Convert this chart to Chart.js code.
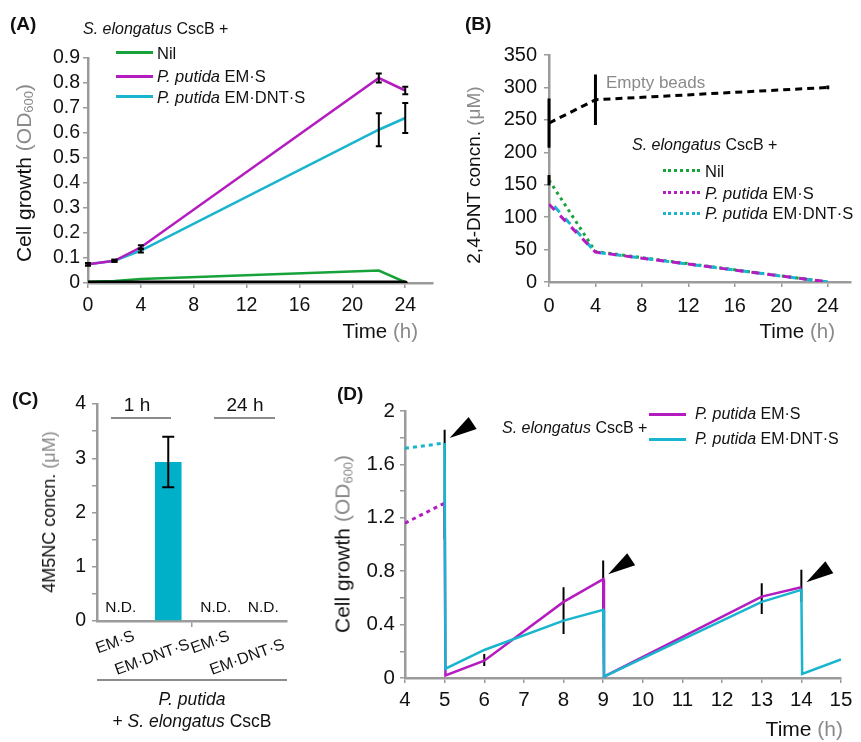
<!DOCTYPE html>
<html>
<head>
<meta charset="utf-8">
<script src="https://cdn.jsdelivr.net/npm/chart.js@4.4.0/dist/chart.umd.min.js"></script>
<style>
  body { margin: 0; background: #fff; }
  #fig { position: relative; width: 861px; height: 742px; overflow: hidden;
         font-family: "Liberation Sans", Arial, sans-serif; color: #111; }
  canvas { position: absolute; }
  .txt { position: absolute; white-space: nowrap; line-height: 1; }
  .lab { font-weight: bold; }
  .gray { color: #8a8a8a; }
  sub { font-size: 0.62em; vertical-align: -0.2em; line-height: 0; }
  .key { position: absolute; height: 0; width: 37px; }
  .rule { position: absolute; height: 0; border-top: 2px solid #8c8c8c; }
</style>
</head>
<body>
<div id="fig">
  <canvas id="chartA" width="440" height="330" style="left:0;top:0"></canvas>
  <canvas id="chartB" width="431" height="330" style="left:430px;top:0"></canvas>
  <canvas id="chartC" width="330" height="412" style="left:0;top:330px"></canvas>
  <canvas id="chartD" width="531" height="412" style="left:330px;top:330px"></canvas>

  <!-- (A) -->
  <div class="txt lab" data-pos="10,23,19">(A)</div>
  <div class="txt" data-pos="83,29,16"><i>S. elongatus</i> CscB +</div>
  <div class="key" style="left:116px;top:51px;border-top:3px solid #17a33a"></div>
  <div class="key" style="left:116px;top:74.5px;border-top:3px solid #b41cc0"></div>
  <div class="key" style="left:116px;top:95px;border-top:3px solid #19b5cf"></div>
  <div class="txt" data-pos="157,53,16.5">Nil</div>
  <div class="txt" data-pos="157,76,16.5"><i>P. putida</i> EM·S</div>
  <div class="txt" data-pos="157,97,16.5"><i>P. putida</i> EM·DNT·S</div>
  <div class="txt" data-rot="23,173,21,-90">Cell growth <span class="gray">(OD<sub>600</sub>)</span></div>
  <div class="txt" data-pos="418,331,20.5,right">Time <span class="gray">(h)</span></div>

  <!-- (B) -->
  <div class="txt lab" data-pos="465,23,19">(B)</div>
  <div class="txt" data-rot="473,175,19,-90">2,4-DNT concn. <span class="gray">(μM)</span></div>
  <div class="txt gray" data-pos="606,82,17">Empty beads</div>
  <div class="txt" data-pos="632,145,16"><i>S. elongatus</i> CscB +</div>
  <div class="key" style="left:663px;top:169px;border-top:3px dotted #17a33a"></div>
  <div class="key" style="left:663px;top:191px;border-top:3px dotted #b41cc0"></div>
  <div class="key" style="left:663px;top:212px;border-top:3px dotted #19b5cf"></div>
  <div class="txt" data-pos="705,171,16.5">Nil</div>
  <div class="txt" data-pos="705,193,16.5"><i>P. putida</i> EM·S</div>
  <div class="txt" data-pos="705,213,16.5"><i>P. putida</i> EM·DNT·S</div>
  <div class="txt" data-pos="835,331,20.5,right">Time <span class="gray">(h)</span></div>

  <!-- (C) -->
  <div class="txt lab" data-pos="12,398,19">(C)</div>
  <div class="txt" data-pos="137,404,19,center">1 h</div>
  <div class="txt" data-pos="245,404,19,center">24 h</div>
  <div class="rule" style="left:111px;top:417px;width:60px"></div>
  <div class="rule" style="left:214px;top:417px;width:61px"></div>
  <div class="rule" style="left:97px;top:679px;width:190px"></div>
  <div class="txt" data-rot="49,512,18,-90">4M5NC concn. <span class="gray">(μM)</span></div>
  <div class="txt" data-pos="192,700,17.5,center"><i>P. putida</i></div>
  <div class="txt" data-pos="192,722,17.5,center">+ <i>S. elongatus</i> CscB</div>

  <!-- (D) -->
  <div class="txt lab" data-pos="337,393,19">(D)</div>
  <div class="txt" data-pos="502,428,16"><i>S. elongatus</i> CscB +</div>
  <div class="key" style="left:649px;top:412.5px;border-top:3px solid #b41cc0"></div>
  <div class="key" style="left:649px;top:437.5px;border-top:3px solid #19b5cf"></div>
  <div class="txt" data-pos="695,414,16"><i>P. putida</i> EM·S</div>
  <div class="txt" data-pos="695,439,16"><i>P. putida</i> EM·DNT·S</div>
  <div class="txt" data-rot="342,544,21,-90">Cell growth <span class="gray">(OD<sub>600</sub>)</span></div>
  <div class="txt" data-pos="843,728,21,right">Time <span class="gray">(h)</span></div>
</div>

<script>
// --- Panel A: cell growth over 24 h ---
const timeA = [0, 2, 4, 22, 24];
const nilA = [0.005, 0.008, 0.016, 0.05, 0.003];
const emsA = [0.075, 0.089, 0.143, 0.82, 0.77];
const emdntsA = [0.075, 0.089, 0.13, 0.613, 0.66];
const blankA = [0, 0, 0, 0, 0];
const emsErrA = [0.005, 0.004, 0.008, 0.018, 0.015];
const emdntsErrA = [0.005, 0.004, 0.008, 0.066, 0.06];

// --- Panel B: 2,4-DNT concentration ---
const timeB = [0, 4, 24];
const beadsB = [245, 281, 300];
const beadsErrB = [38, 39, 3];
const nilB = [157, 47, 0];
const nilErrB = [8, 0, 0];
const emsB = [120, 46, 0];
const emdntsB = [126, 46, 0];

// --- Panel C: 4M5NC concentration ---
const catsC = ['EM·S', 'EM·DNT·S', 'EM·S', 'EM·DNT·S'];
const concC = [null, 2.93, null, null];
const errC = [null, 0.465, null, null];
const ndLabel = 'N.D.';

// --- Panel D: repeated culture cycles ---
const tPreD = [4, 5];
const emsPreD = [1.16, 1.31];
const dntPreD = [1.72, 1.76];
const tEmsD = [5, 5.02, 6, 8, 9, 9.02, 13, 14];
const emsD = [1.31, 0.02, 0.13, 0.57, 0.74, 0.01, 0.61, 0.68];
const tDntD = [5, 5.02, 6, 8, 9, 9.02, 13, 14, 14.02, 15];
const dntD = [1.76, 0.07, 0.21, 0.43, 0.51, 0.01, 0.57, 0.66, 0.03, 0.14];
const errXD = [5, 6, 8, 9, 13, 14];
const errLoD = [1.04, 0.09, 0.33, 0.38, 0.48, 0.57];
const errHiD = [1.86, 0.18, 0.68, 0.88, 0.71, 0.81];
const arrowXD = [5, 9, 14];
const arrowYD = [1.76, 0.74, 0.68];

const FONT = "'Liberation Sans', Arial, sans-serif";
const AXIS_GRAY = '#9b9b9b';
const MAGENTA = '#b41cc0';
const CYAN = '#19b5cf';
const GREEN = '#17a33a';
const BAR_CYAN = '#00b0c9';

const fig = document.getElementById('fig');

// place the static text labels
document.querySelectorAll('[data-pos]').forEach(el => {
    const [x, y, size, align] = el.dataset.pos.split(',');
    el.style.fontSize = size + 'px';
    el.style.top = (y - size * 0.49) + 'px';
    if (align === 'right') {
        el.style.right = (861 - x) + 'px';
    } else if (align === 'center') {
        el.style.left = x + 'px';
        el.style.transform = 'translateX(-50%)';
    } else {
        el.style.left = x + 'px';
    }
});
document.querySelectorAll('[data-rot]').forEach(el => {
    const [x, y, size, deg] = el.dataset.rot.split(',');
    el.style.fontSize = size + 'px';
    el.style.left = x + 'px';
    el.style.top = y + 'px';
    el.style.transform = 'translate(-50%, -50%) rotate(' + deg + 'deg)';
});

function pts(xs, ys) {
    return xs.map((x, i) => ({ x: x, y: ys[i] }));
}

function onStep(v, step) {
    const k = v / step;
    return Math.abs(k - Math.round(k)) < 1e-6;
}

function linAxis(min, max, step, size, pad, fit) {
    return {
        type: 'linear',
        min: min,
        max: max,
        border: { color: AXIS_GRAY, width: 2.5 },
        grid: { drawOnChartArea: false, tickLength: 5, color: AXIS_GRAY, lineWidth: 1.5 },
        ticks: {
            stepSize: step,
            includeBounds: false,
            color: '#111',
            font: { family: FONT, size: size },
            padding: pad,
            autoSkip: false,
            maxRotation: 0
        },
        afterFit: fit
    };
}

function baseOptions(padding, scales) {
    return {
        responsive: false,
        animation: false,
        layout: { padding: Object.assign({ left: 0, top: 0, right: 0, bottom: 0 }, padding) },
        plugins: { legend: { display: false }, tooltip: { enabled: false } },
        elements: { point: { radius: 0 }, line: { tension: 0 } },
        scales: scales
    };
}

// error bars are drawn from value arrays through the chart's own scales
function errorBars(sets, under) {
    const draw = chart => {
        const { ctx, scales } = chart;
        sets.forEach(set => {
            ctx.save();
            ctx.strokeStyle = '#000';
            ctx.lineWidth = set.width;
            ctx.beginPath();
            set.xs.forEach((xv, i) => {
                if (set.lo[i] == null || set.lo[i] === set.hi[i]) return;
                const px = scales.x.getPixelForValue(xv);
                const y1 = scales.y.getPixelForValue(set.lo[i]);
                const y2 = scales.y.getPixelForValue(set.hi[i]);
                ctx.moveTo(px, y1);
                ctx.lineTo(px, y2);
                if (set.cap) {
                    ctx.moveTo(px - set.cap, y1); ctx.lineTo(px + set.cap, y1);
                    ctx.moveTo(px - set.cap, y2); ctx.lineTo(px + set.cap, y2);
                }
            });
            ctx.stroke();
            ctx.restore();
        });
    };
    return under
        ? { id: 'errorBarsUnder', beforeDatasetsDraw: draw }
        : { id: 'errorBars', afterDatasetsDraw: draw };
}

function spread(mean, err, sign) {
    return mean.map((m, i) => (m == null || err[i] == null) ? null : m + sign * err[i]);
}

// --- Chart A ---
new Chart(document.getElementById('chartA'), {
    type: 'line',
    data: {
        datasets: [
            { data: pts(timeA, emsA), borderColor: MAGENTA, borderWidth: 2.5 },
            { data: pts(timeA, emdntsA), borderColor: CYAN, borderWidth: 2.5 },
            { data: pts(timeA, blankA), borderColor: '#000', borderWidth: 5, borderCapStyle: 'round' },
            { data: pts(timeA, nilA), borderColor: GREEN, borderWidth: 2.5 }
        ]
    },
    options: baseOptions({ top: 58, right: 7 }, {
        x: linAxis(0, 26.1, 4, 19.5, 6, s => { s.height = 47; }),
        y: linAxis(0, 0.9, 0.1, 19.5, 3, s => { s.width = 88; })
    }),
    plugins: [errorBars([
        { xs: timeA, lo: spread(emsA, emsErrA, -1), hi: spread(emsA, emsErrA, 1), width: 2, cap: 3 },
        { xs: timeA, lo: spread(emdntsA, emdntsErrA, -1), hi: spread(emdntsA, emdntsErrA, 1), width: 2, cap: 3 }
    ], false)]
});

// --- Chart B ---
new Chart(document.getElementById('chartB'), {
    type: 'line',
    data: {
        datasets: [
            { data: pts(timeB, beadsB), borderColor: '#000', borderWidth: 3, borderDash: [7, 5] },
            { data: pts(timeB, emsB), borderColor: MAGENTA, borderWidth: 3, borderDash: [8, 8] },
            { data: pts(timeB, emdntsB), borderColor: CYAN, borderWidth: 3, borderDash: [8, 8], borderDashOffset: 8 },
            { data: pts(timeB, nilB), borderColor: GREEN, borderWidth: 3, borderDash: [3, 4] }
        ]
    },
    options: baseOptions({ top: 55, right: 10 }, {
        x: linAxis(0, 26, 4, 20, 7, s => { s.height = 48; }),
        y: linAxis(0, 350, 50, 20, 7, s => { s.width = 119; })
    }),
    plugins: [errorBars([
        { xs: timeB, lo: spread(beadsB, beadsErrB, -1), hi: spread(beadsB, beadsErrB, 1), width: 3, cap: 0 },
        { xs: timeB, lo: spread(nilB, nilErrB, -1), hi: spread(nilB, nilErrB, 1), width: 3, cap: 0 }
    ], false)]
});

// --- Chart C ---
const yC = linAxis(0, 4, 0.5, 19.5, 6, s => { s.width = 97; });
yC.ticks.callback = v => Number.isInteger(v) ? String(v) : '';
const chartC = new Chart(document.getElementById('chartC'), {
    type: 'bar',
    data: {
        labels: catsC,
        datasets: [{ data: concC, backgroundColor: BAR_CYAN, categoryPercentage: 1, barPercentage: 0.56 }]
    },
    options: baseOptions({ top: 74, right: 43 }, {
        x: {
            type: 'category',
            border: { color: AXIS_GRAY, width: 2.5 },
            grid: {
                drawOnChartArea: false, offset: true, tickLength: 6, lineWidth: 1.5,
                color: ctx => ctx.index === 2 ? AXIS_GRAY : 'rgba(0,0,0,0)'
            },
            ticks: { display: false },
            afterFit: s => { s.height = 121; }
        },
        y: yC
    }),
    plugins: [errorBars([
        { xs: catsC.map((c, i) => i), lo: spread(concC, errC, -1), hi: spread(concC, errC, 1), width: 2, cap: 6 }
    ], false)]
});

// category labels and N.D. marks placed from the category scale
catsC.forEach((name, i) => {
    const cx = chartC.scales.x.getPixelForValue(i);
    const long = name.length > 5;
    const lab = document.createElement('div');
    lab.className = 'txt';
    lab.textContent = name;
    lab.style.fontSize = '16px';
    lab.style.left = (cx - (long ? 16 : 6)) + 'px';
    lab.style.top = (330 + (long ? 327 : 312)) + 'px';
    lab.style.transform = 'translate(-50%, -50%) rotate(-20deg)';
    fig.appendChild(lab);
    if (concC[i] == null) {
        const nd = document.createElement('div');
        nd.className = 'txt';
        nd.textContent = ndLabel;
        nd.style.fontSize = '15.5px';
        nd.style.left = cx + 'px';
        nd.style.top = (330 + chartC.scales.y.getPixelForValue(0) - 14 - 15.5 * 0.49) + 'px';
        nd.style.transform = 'translateX(-50%)';
        fig.appendChild(nd);
    }
});

// --- Chart D ---
const arrowheads = {
    id: 'arrowheads',
    afterDatasetsDraw(chart) {
        const { ctx, scales } = chart;
        ctx.save();
        ctx.fillStyle = '#000';
        arrowXD.forEach((xv, i) => {
            const px = scales.x.getPixelForValue(xv);
            const py = scales.y.getPixelForValue(arrowYD[i]);
            ctx.beginPath();
            ctx.moveTo(px + 5, py - 5);
            ctx.lineTo(px + 24, py - 26);
            ctx.lineTo(px + 32, py - 14);
            ctx.closePath();
            ctx.fill();
        });
        ctx.restore();
    }
};

const yD = linAxis(0, 2, 0.2, 20.5, 5, s => { s.width = 75; });
yD.ticks.callback = v => onStep(v, 0.4) ? String(+v.toFixed(1)) : '';

new Chart(document.getElementById('chartD'), {
    type: 'line',
    data: {
        datasets: [
            { data: pts(tPreD, dntPreD), borderColor: CYAN, borderWidth: 3, borderDash: [4, 4] },
            { data: pts(tDntD, dntD), borderColor: CYAN, borderWidth: 2.5 },
            { data: pts(tPreD, emsPreD), borderColor: MAGENTA, borderWidth: 3, borderDash: [4, 4] },
            { data: pts(tEmsD, emsD), borderColor: MAGENTA, borderWidth: 2.5 }
        ]
    },
    options: baseOptions({ top: 81, right: 20 }, {
        x: linAxis(4, 15, 1, 20.5, 5, s => { s.height = 64; }),
        y: yD
    }),
    plugins: [errorBars([{ xs: errXD, lo: errLoD, hi: errHiD, width: 2, cap: 0 }], true), arrowheads]
});
</script>
</body>
</html>
